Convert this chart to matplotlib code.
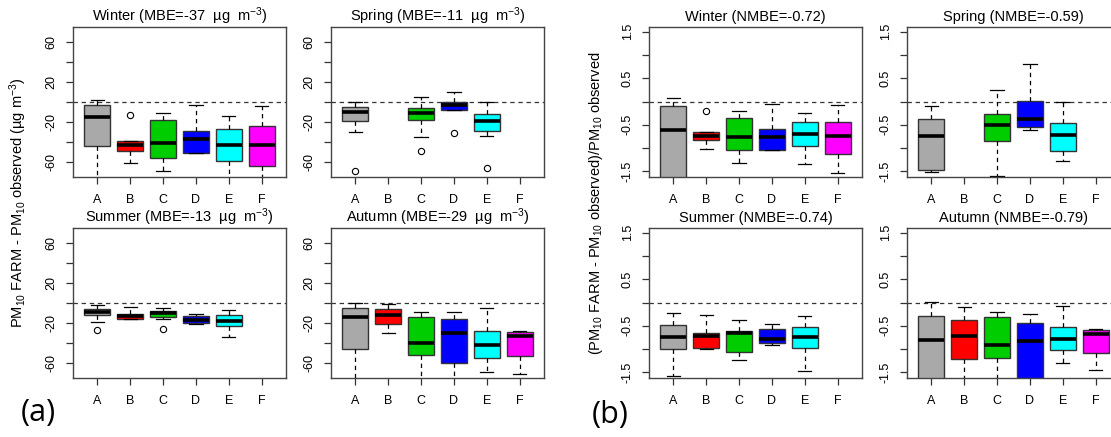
import matplotlib
matplotlib.use("Agg")
import matplotlib.pyplot as plt

plt.rcParams['font.family'] = ['Liberation Sans', 'DejaVu Sans']
plt.rcParams['mathtext.fontset'] = 'custom'
plt.rcParams['mathtext.rm'] = 'Liberation Sans'
plt.rcParams['mathtext.it'] = 'Liberation Sans:italic'

cats = ['A', 'B', 'C', 'D', 'E', 'F']
box_colors = ['#A9A9A9', '#FF0000', '#00CD00', '#0000FF', '#00FFFF', '#FF00FF']

# (a) MBE, ug m-3  -- None = no data for that model
win_a_med = [-15, -43, -41, -37, -43, -43]
win_a_q1 = [-44, -49, -56, -51, -59, -64]
win_a_q3 = [-3, -39, -18, -29, -27, -24]
win_a_lo = [-80, -61, -69, -51, -80, -80]
win_a_hi = [2, -39, -11, -3, -14, -4]
win_a_out = [[], [-13], [], [], [], []]

spr_a_med = [-10, None, -11, -3, -19, None]
spr_a_q1 = [-19, None, -18, -8, -29, None]
spr_a_q3 = [-5, None, -6, 0, -12, None]
spr_a_lo = [-30, None, -35, -8, -34, None]
spr_a_hi = [0, None, 5, 10, 0, None]
spr_a_out = [[-69], [], [-49], [-31], [-66], []]

sum_a_med = [-9, -13, -10, -17, -18, None]
sum_a_q1 = [-12, -16, -14, -20, -23, None]
sum_a_q3 = [-6, -11, -8, -13, -12, None]
sum_a_lo = [-19, -16, -16, -21, -34, None]
sum_a_hi = [-2, -4, -5, -11, -7, None]
sum_a_out = [[-27], [], [-26], [], [], []]

aut_a_med = [-14, -12, -40, -30, -42, -33]
aut_a_q1 = [-46, -21, -52, -60, -55, -53]
aut_a_q3 = [-5, -6, -14, -16, -28, -29]
aut_a_lo = [-80, -30, -80, -80, -69, -71]
aut_a_hi = [0, -1, -9, -9, -5, -28]
aut_a_out = [[], [], [], [], [], []]

# (b) NMBE
win_b_med = [-0.61, -0.74, -0.76, -0.76, -0.69, -0.75]
win_b_q1 = [-1.7, -0.82, -1.05, -1.05, -0.95, -1.12]
win_b_q3 = [-0.09, -0.66, -0.35, -0.60, -0.45, -0.44]
win_b_lo = [-1.7, -1.01, -1.31, -1.05, -1.34, -1.54]
win_b_hi = [0.07, -0.66, -0.21, -0.06, -0.24, -0.08]
win_b_out = [[], [-0.21], [], [], [], []]

spr_b_med = [-0.74, None, -0.50, -0.37, -0.71, None]
spr_b_q1 = [-1.46, None, -0.84, -0.54, -1.06, None]
spr_b_q3 = [-0.37, None, -0.27, 0.02, -0.46, None]
spr_b_lo = [-1.51, None, -1.59, -0.61, -1.28, None]
spr_b_hi = [-0.10, None, 0.24, 0.81, 0.0, None]
spr_b_out = [[], [], [], [], [], []]

sum_b_med = [-0.75, -0.71, -0.66, -0.79, -0.74, None]
sum_b_q1 = [-0.99, -0.97, -1.07, -0.87, -0.97, None]
sum_b_q3 = [-0.49, -0.66, -0.61, -0.56, -0.53, None]
sum_b_lo = [-1.57, -1.0, -1.24, -0.92, -1.46, None]
sum_b_hi = [-0.22, -0.27, -0.37, -0.47, -0.29, None]
sum_b_out = [[], [], [], [], [], []]

aut_b_med = [-0.80, -0.71, -0.91, -0.82, -0.79, -0.67]
aut_b_q1 = [-1.7, -1.22, -1.18, -1.7, -1.02, -1.09]
aut_b_q3 = [-0.29, -0.38, -0.32, -0.44, -0.52, -0.58]
aut_b_lo = [-1.7, -1.7, -1.7, -1.7, -1.29, -1.44]
aut_b_hi = [0.02, -0.09, -0.20, -0.25, -0.08, -0.56]
aut_b_out = [[], [], [], [], [], []]

mbe_titles = ['Winter (MBE=-37  µg  m$^{-3}$)', 'Spring (MBE=-11  µg  m$^{-3}$)',
              'Summer (MBE=-13  µg  m$^{-3}$)', 'Autumn (MBE=-29  µg  m$^{-3}$)']
nmbe_titles = ['Winter (NMBE=-0.72)', 'Spring (NMBE=-0.59)',
               'Summer (NMBE=-0.74)', 'Autumn (NMBE=-0.79)']

W, H = 1111, 437
fig = plt.figure(figsize=(W / 100, H / 100), dpi=100)


def make_ax(x0, y0, w=213, h=150):
    return fig.add_axes([x0 / W, 1 - (y0 + h) / H, w / W, h / H])


def panel(ax, med, q1, q3, lo, hi, out, title, ylim, yticks, ylabels):
    stats, pos, cols = [], [], []
    for i in range(len(cats)):
        if med[i] is None:
            continue
        stats.append(dict(med=med[i], q1=q1[i], q3=q3[i], whislo=lo[i],
                          whishi=hi[i], fliers=out[i]))
        pos.append(i + 1)
        cols.append(box_colors[i])
    bp = ax.bxp(stats, positions=pos, widths=0.8, patch_artist=True,
                boxprops=dict(edgecolor='#333333', linewidth=1),
                medianprops=dict(color='black', linewidth=2.6, solid_capstyle='butt'),
                whiskerprops=dict(color='black', linestyle=(0, (3.5, 3)), linewidth=0.9),
                capprops=dict(color='black', linewidth=0.9), capwidths=0.4,
                flierprops=dict(marker='o', markerfacecolor='none',
                                markeredgecolor='black', markersize=4.5, markeredgewidth=0.8))
    for patch, c in zip(bp['boxes'], cols):
        patch.set_facecolor(c)
    ax.axhline(0, color='#333333', linestyle=(0, (3.5, 3)), linewidth=0.9, zorder=0.5)
    ax.set_xlim(0.26, 6.74)
    ax.set_ylim(*ylim)
    ax.set_xticks(range(1, 7))
    ax.set_xticklabels(cats)
    ax.set_yticks(yticks)
    ax.set_yticklabels(ylabels, rotation=90, va='center')
    ax.tick_params(axis='both', length=5, width=0.9, color='#333333', labelsize=9)
    ax.tick_params(axis='x', pad=7)
    ax.tick_params(axis='y', pad=6)
    for s in ax.spines.values():
        s.set_color('#444444')
        s.set_linewidth(1)
    ax.set_title(title, fontsize=10.5, pad=4)


a_ticks = [-60, -40, -20, 0, 20, 40, 60]
a_labels = ['-60', '', '-20', '', '20', '', '60']
b_ticks = [-1.5, -1.0, -0.5, 0, 0.5, 1.0, 1.5]
b_labels = ['-1.5', '', '-0.5', '', '0.5', '', '1.5']

a_data = [(win_a_med, win_a_q1, win_a_q3, win_a_lo, win_a_hi, win_a_out),
          (spr_a_med, spr_a_q1, spr_a_q3, spr_a_lo, spr_a_hi, spr_a_out),
          (sum_a_med, sum_a_q1, sum_a_q3, sum_a_lo, sum_a_hi, sum_a_out),
          (aut_a_med, aut_a_q1, aut_a_q3, aut_a_lo, aut_a_hi, aut_a_out)]
b_data = [(win_b_med, win_b_q1, win_b_q3, win_b_lo, win_b_hi, win_b_out),
          (spr_b_med, spr_b_q1, spr_b_q3, spr_b_lo, spr_b_hi, spr_b_out),
          (sum_b_med, sum_b_q1, sum_b_q3, sum_b_lo, sum_b_hi, sum_b_out),
          (aut_b_med, aut_b_q1, aut_b_q3, aut_b_lo, aut_b_hi, aut_b_out)]

a_pos = [(73, 27), (331, 27), (73, 228), (331, 228)]
b_pos = [(649, 27), (907, 27), (649, 228), (907, 228)]

for k in range(4):
    ax = make_ax(*a_pos[k])
    panel(ax, *a_data[k], mbe_titles[k], (-75, 75), a_ticks, a_labels)
    ax = make_ax(*b_pos[k])
    panel(ax, *b_data[k], nmbe_titles[k], (-1.62, 1.6), b_ticks, b_labels)

fig.text(18 / W, 1 - 203 / H, 'PM$_{10}$ FARM - PM$_{10}$ observed (µg m$^{-3}$)',
         rotation=90, ha='center', va='center', fontsize=10.5)
fig.text(596 / W, 1 - 203 / H, '(PM$_{10}$ FARM - PM$_{10}$ observed)/PM$_{10}$ observed',
         rotation=90, ha='center', va='center', fontsize=10.5)
fig.text(38 / W, 1 - 413 / H, '(a)', ha='center', va='center', fontsize=22,
         family='Open Sans')
fig.text(610 / W, 1 - 415 / H, '(b)', ha='center', va='center', fontsize=22,
         family='Open Sans')

fig.savefig('out.png', dpi=100)
